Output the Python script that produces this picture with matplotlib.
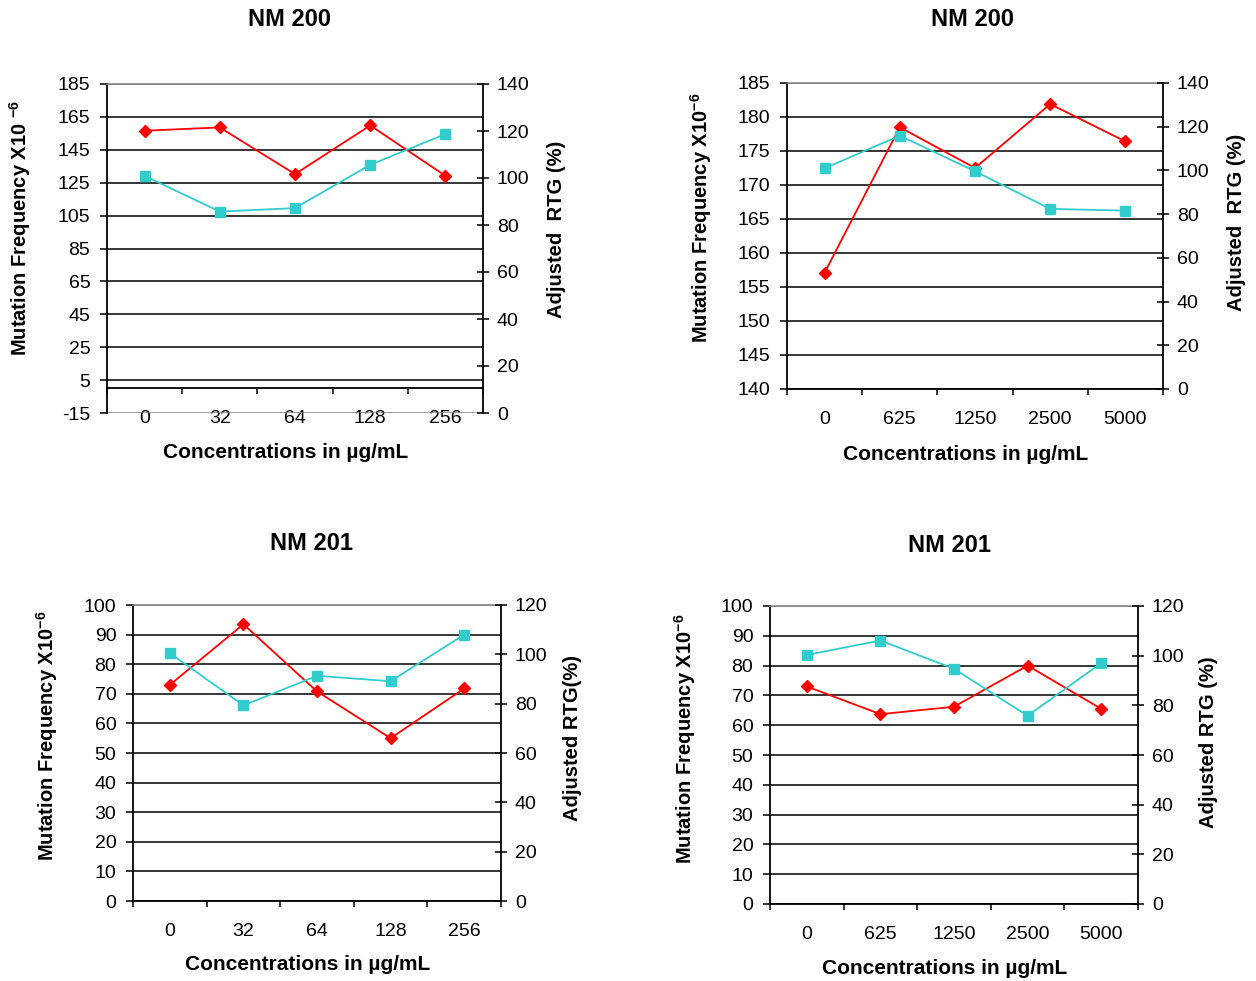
import numpy as np
import matplotlib
matplotlib.use("Agg")
import matplotlib.pyplot as plt

plt.rcParams['font.family'] = ['Liberation Sans', 'DejaVu Sans']
plt.rcParams['mathtext.default'] = 'regular'

# Concentrations (categories)
conc_a = ['0', '32', '64', '128', '256']
conc_b = ['0', '625', '1250', '2500', '5000']

# NM 200 series
mf_nm200_a = [156.6, 158.6, 130.2, 159.8, 129.2]
rtg_nm200_a = [100.9, 85.7, 87.2, 105.6, 118.7]
mf_nm200_b = [157.1, 178.5, 172.5, 181.9, 176.4]
rtg_nm200_b = [101.0, 115.9, 99.6, 82.4, 81.6]

# NM 201 series
mf_nm201_a = [73.0, 93.5, 70.8, 55.0, 71.8]
rtg_nm201_a = [100.5, 79.3, 91.3, 89.1, 108.0]
mf_nm201_b = [73.0, 63.7, 66.2, 80.0, 65.5]
rtg_nm201_b = [100.3, 106.1, 94.7, 75.8, 97.0]

W, H = 1256, 981
fig = plt.figure(figsize=(W / 100, H / 100), dpi=100)

RED = '#FF0000'
CYAN = '#33CCCC'
TICK_FS = 14


def panel(box, cats, mf, rtg, mf_ticks, rtg_ticks, xaxis_at=None):
    L, R, T, B = box
    ax = fig.add_axes([L / W, 1 - B / H, (R - L) / W, (B - T) / H])
    if xaxis_at is not None:
        ax.spines['bottom'].set_position(('data', xaxis_at))
    x = np.arange(len(cats))
    ax.set_xlim(-0.5, len(cats) - 0.5)
    ax.set_ylim(mf_ticks[0], mf_ticks[-1])
    ax.set_yticks(mf_ticks)
    ax.set_yticklabels([str(v) for v in mf_ticks], fontsize=TICK_FS)
    ax.yaxis.grid(True, color='black', lw=1.1)
    ax.set_axisbelow(True)
    ax.tick_params(axis='y', direction='out', length=5, width=1.1, pad=7)

    ax.set_xticks(x)
    ax.set_xticklabels(cats, fontsize=TICK_FS)
    ax.set_xticks(np.arange(len(cats) + 1) - 0.5, minor=True)
    ax.tick_params(axis='x', which='major', length=0, pad=15.5)
    ax.tick_params(axis='x', which='minor', direction='out', length=4, width=1.1)

    for s in ('left', 'bottom'):
        ax.spines[s].set_color('black')
        ax.spines[s].set_linewidth(1.3)
    ax.spines['right'].set_visible(False)
    ax.spines['top'].set_color('#808080')
    ax.spines['top'].set_linewidth(1.1)

    # top (and bottom border when the x axis is raised) drawn in grey
    ticks = ax.yaxis.get_major_ticks()
    ticks[-1].gridline.set_color('#808080')
    if xaxis_at is not None:
        ticks[0].gridline.set_color('#808080')

    ax.plot(x, mf, color=RED, lw=1.3, marker='D', ms=6.2, mec=RED, mfc=RED, zorder=3,
            clip_on=False)

    ax2 = ax.twinx()
    ax2.set_ylim(rtg_ticks[0], rtg_ticks[-1])
    ax2.set_yticks(rtg_ticks)
    ax2.set_yticklabels([str(v) for v in rtg_ticks], fontsize=TICK_FS)
    ax2.tick_params(axis='y', direction='inout', length=8, width=1.1, pad=6)
    for s in ('left', 'top', 'bottom'):
        ax2.spines[s].set_visible(False)
    ax2.spines['right'].set_color('black')
    ax2.spines['right'].set_linewidth(1.3)
    ax2.plot(x, rtg, color=CYAN, lw=1.3, marker='s', ms=7.2, mec=CYAN, mfc=CYAN, zorder=3,
             clip_on=False)
    return ax, ax2


panel((107, 483, 84, 413), conc_a, mf_nm200_a, rtg_nm200_a,
      list(range(-15, 186, 20)), list(range(0, 141, 20)), xaxis_at=0)
panel((787, 1163, 83, 389), conc_b, mf_nm200_b, rtg_nm200_b,
      list(range(140, 186, 5)), list(range(0, 141, 20)))
panel((133, 501, 605, 901), conc_a, mf_nm201_a, rtg_nm201_a,
      list(range(0, 101, 10)), list(range(0, 121, 20)))
panel((770, 1138, 606, 904), conc_b, mf_nm201_b, rtg_nm201_b,
      list(range(0, 101, 10)), list(range(0, 121, 20)))


def ftext(px, py, s, **kw):
    fig.text(px / W, 1 - py / H, s, ha='center', va='center', **kw)


TITLE_FS = 17
XL_FS = 15
YL_FS = 14.5

ftext(290, 20, 'NM 200', fontsize=TITLE_FS, fontweight='bold')
ftext(972, 20, 'NM 200', fontsize=TITLE_FS, fontweight='bold')
ftext(311, 544, 'NM 201', fontsize=TITLE_FS, fontweight='bold')
ftext(949, 546, 'NM 201', fontsize=TITLE_FS, fontweight='bold')

xl = 'Concentrations in µg/mL'
ftext(286, 452, xl, fontsize=XL_FS, fontweight='bold')
ftext(966, 455, xl, fontsize=XL_FS, fontweight='bold')
ftext(308, 964, xl, fontsize=XL_FS, fontweight='bold')
ftext(945, 968, xl, fontsize=XL_FS, fontweight='bold')

yl = 'Mutation Frequency X10 $^{-6}$'
yl2 = 'Mutation Frequency X10$^{-6}$'
ftext(20, 228, yl, fontsize=YL_FS, fontweight='bold', rotation=90)
ftext(701, 218, yl2, fontsize=YL_FS, fontweight='bold', rotation=90)
ftext(47, 736, yl2, fontsize=YL_FS, fontweight='bold', rotation=90)
ftext(685, 739, yl2, fontsize=YL_FS, fontweight='bold', rotation=90)

ftext(556, 229, 'Adjusted  RTG (%)', fontsize=YL_FS, fontweight='bold', rotation=90)
ftext(1236, 222, 'Adjusted  RTG (%)', fontsize=YL_FS, fontweight='bold', rotation=90)
ftext(572, 738, 'Adjusted RTG(%)', fontsize=YL_FS, fontweight='bold', rotation=90)
ftext(1208, 742, 'Adjusted RTG (%)', fontsize=YL_FS, fontweight='bold', rotation=90)

fig.savefig('out.png', dpi=100)
